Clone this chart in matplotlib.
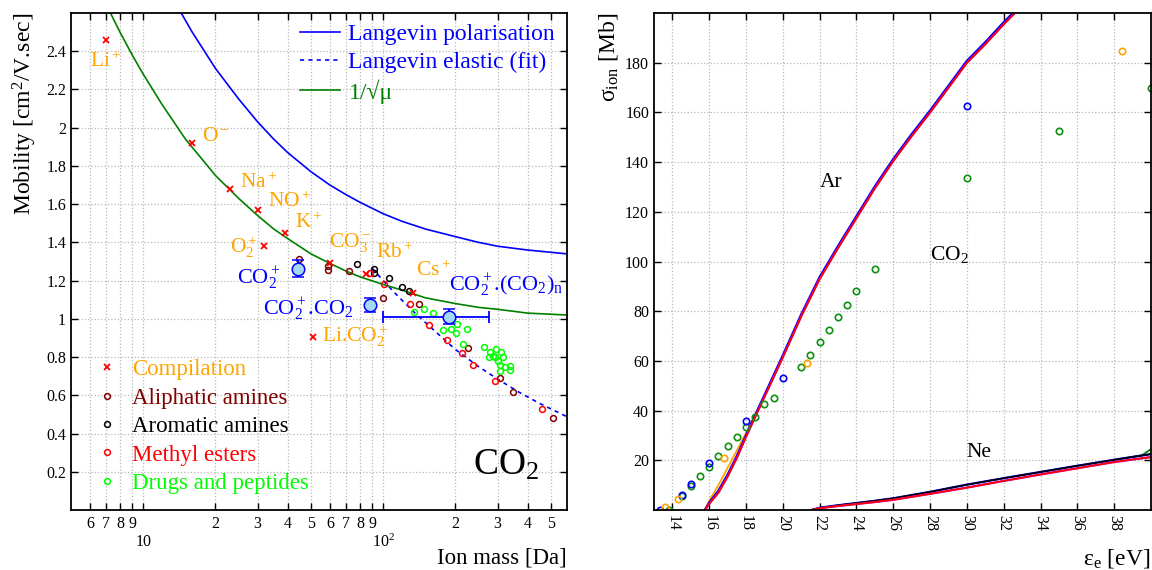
import matplotlib
matplotlib.use('Agg')
import matplotlib.pyplot as plt
from matplotlib.lines import Line2D
from matplotlib.ticker import FixedLocator, FixedFormatter

plt.rcParams['font.family'] = ['Liberation Serif', 'DejaVu Serif']
plt.rcParams['mathtext.fontset'] = 'custom'
plt.rcParams['mathtext.rm'] = 'Liberation Serif'
plt.rcParams['mathtext.it'] = 'Liberation Serif:italic'
plt.rcParams['mathtext.default'] = 'rm'

ORANGE = '#ffa500'
MAROON = '#800000'
LIME = '#00ff00'
DKGREEN = '#008000'

# ---------------- left panel data: ion mobility in CO2 ----------------
# theory curves
mass_pol = [14.4, 16, 18, 20, 25, 30, 35, 40, 50, 60, 70, 80, 100, 120, 150, 200, 250, 300, 400, 584]
K_pol = [2.60, 2.50, 2.40, 2.31, 2.15, 2.03, 1.94, 1.87, 1.77, 1.70, 1.65, 1.61, 1.55, 1.51, 1.47,
         1.43, 1.40, 1.38, 1.36, 1.34]
mass_el = [90, 100, 115, 135, 160, 200, 250, 300, 370, 450, 584]
K_el = [1.265, 1.20, 1.12, 1.033, 0.949, 0.84, 0.75, 0.685, 0.615, 0.557, 0.488]
mass_sq = [7.3, 8, 9, 10, 12, 15, 18, 20, 25, 30, 35, 40, 50, 60, 70, 80, 100, 120, 150, 200, 250,
           300, 400, 584]
K_sq = [2.60, 2.50, 2.38, 2.28, 2.12, 1.94, 1.82, 1.75, 1.63, 1.54, 1.47, 1.42, 1.34, 1.29, 1.25,
        1.22, 1.18, 1.15, 1.11, 1.08, 1.06, 1.05, 1.03, 1.02]

# compilation (crosses)
comp_mass = [7, 16, 23, 30, 32, 39, 51, 60, 85, 133]
comp_K = [2.46, 1.92, 1.68, 1.57, 1.38, 1.45, 0.907, 1.29, 1.237, 1.134]
comp_names = ['Li$^+$', 'O$^-$', 'Na$^+$', 'NO$^+$', 'O$_2^+$', 'K$^+$', 'Li.CO$_2^+$',
              'CO$_3^-$', 'Rb$^+$', 'Cs$^+$']
comp_lab_m = [6.0, 17.6, 25.4, 33.2, 22.9, 43, 55.6, 59.2, 93.3, 137]
comp_lab_K = [2.345, 1.953, 1.712, 1.613, 1.377, 1.503, 0.907, 1.398, 1.346, 1.25]

ali_mass = [44.7, 58.9, 58.9, 72.1, 100.3, 141, 225, 307, 347, 512]
ali_K = [1.312, 1.274, 1.253, 1.248, 1.108, 1.08, 0.847, 0.688, 0.617, 0.479]

aro_mass = [78, 92, 92, 106, 120, 128]
aro_K = [1.288, 1.26, 1.239, 1.215, 1.169, 1.148]

est_mass = [88, 101, 129, 155, 184, 213, 238, 293, 458]
est_K = [1.239, 1.182, 1.077, 0.970, 0.89, 0.82, 0.759, 0.677, 0.527]

drug_mass = [135, 148, 162, 178, 191, 203, 201, 223, 215, 264, 279, 296, 309, 275, 288, 300, 316,
             307, 322, 338, 338, 307, 293]
drug_K = [1.035, 1.051, 1.03, 0.942, 0.946, 0.972, 0.925, 0.946, 0.868, 0.855, 0.829, 0.841, 0.824,
          0.799, 0.806, 0.78, 0.799, 0.759, 0.75, 0.754, 0.733, 0.729, 0.803]

# CO2+ cluster ions with error bars
clu_mass = [44, 88, 189]
clu_K = [1.262, 1.073, 1.012]
clu_Kerr = [0.045, 0.035, 0.04]
clu_names = ['CO$_2^+$', 'CO$_2^+$.CO$_2$', 'CO$_2^+$.(CO$_2$)$_n$']
clu_lab_m = [24.6, 31.7, 189]
clu_lab_K = [1.213, 1.056, 1.178]
clun_mass_lo, clun_mass_hi = 100, 275

# ---------------- right panel data: ionisation cross sections ----------------
ar_e = [15.76, 16.0, 16.5, 17.0, 17.5, 18.0, 19.0, 20.0, 21.0, 22.0, 23.0, 24.0, 25.0, 26.0,
        27.0, 28.0, 29.0, 30.0, 31.0, 32.0, 33.0]
ar_red = [0, 2.5, 7, 13.5, 21, 29.5, 45.5, 61.5, 78, 93, 105.5, 117.5, 129.5, 140.5, 150.5, 160,
          170, 180, 187.5, 195.5, 203]
ar_blue = [0, 3.0, 7.8, 14.3, 21.8, 30.2, 46.3, 62.3, 78.8, 93.8, 106.3, 118.3, 130.3, 141.3, 151.3,
           160.8, 170.8, 180.8, 188.3, 196.3, 203.8]
ar_orange = [0, 3.8, 10, 17, 24, 31, 46, 61.8, 78, 93, 105.5, 117.5, 129.5, 140.5, 150.5, 160,
             170, 180, 187.5, 195.5, 203]

ne_e = [21.56, 22, 23, 24, 25, 26, 28, 30, 32, 34, 36, 38, 40]
ne_dark = [0, 0.9, 1.9, 2.8, 3.7, 4.7, 7.3, 10.2, 12.8, 15.3, 17.8, 20.2, 22.5]
ne_red = [0, 0.7, 1.6, 2.4, 3.2, 4.1, 6.5, 9.0, 11.7, 14.3, 16.8, 19.3, 21.3]
ne_green_e = [38, 39.5, 40]
ne_green = [20.2, 22.0, 24.5]

g_e = [13.8, 14.5, 15.0, 15.5, 16.0, 16.5, 17.0, 17.5, 18.0, 18.5, 19.0, 19.5, 21.0, 21.5, 22.0,
       22.5, 23.0, 23.5, 24.0, 25.0, 30.0, 35.0, 40.0]
g_s = [0.2, 5.6, 9.6, 13.6, 17.4, 21.6, 25.7, 29.3, 33.3, 37.3, 42.8, 45.1, 57.6, 62.2, 67.6, 72.6,
       77.7, 82.6, 88.0, 97.0, 133.8, 152.7, 169.7]
b_e = [13.3, 14.5, 15.0, 16.0, 18.0, 20.0, 30.0]
b_s = [0.2, 5.9, 10.4, 18.8, 35.7, 53.2, 162.7]
o_e = [13.6, 14.3, 16.8, 21.3, 38.4]
o_s = [1.1, 4.6, 21.0, 59.2, 184.7]

fig = plt.figure(figsize=(11.52, 5.7), dpi=100)
W, H = 1152, 570
axL = fig.add_axes([71 / W, 60 / H, 496 / W, 497 / H])
axR = fig.add_axes([654 / W, 60 / H, 497 / W, 497 / H])

grid_kw = dict(color='#b8b8b8', linestyle=':', linewidth=0.9)

# ---------------- left panel ----------------
ax = axL
ax.set_xscale('log')
ax.set_xlim(5, 584)
ax.set_ylim(0, 2.6)

ax.plot(mass_pol, K_pol, color='blue', lw=1.2, label='Langevin polarisation')
ax.plot(mass_el, K_el, color='blue', lw=1.2, ls=(0, (2.5, 2.5)), label='Langevin elastic (fit)')
ax.plot(mass_sq, K_sq, color=DKGREEN, lw=1.2, label='1/\u221a\u03bc')

sm = dict(ls='none', ms=4.2, mew=1.1, mfc='none')
ax.plot(ali_mass, ali_K, marker='o', mec=MAROON, **sm)
ax.plot(aro_mass, aro_K, marker='o', mec='black', **sm)
ax.plot(est_mass, est_K, marker='o', mec='red', **sm)
ax.plot(drug_mass, drug_K, marker='o', mec=LIME, **sm)
ax.plot(comp_mass, comp_K, ls='none', marker='x', color='red', ms=4.5, mew=1.3)

ax.errorbar(clu_mass, clu_K, yerr=clu_Kerr, fmt='o', ms=9, mfc='#a3d8f4', mec='blue',
            mew=1.1, ecolor='blue', elinewidth=1.3, capsize=4.5, capthick=1.3, zorder=5)
ax.errorbar([clu_mass[2]], [clu_K[2]],
            xerr=[[clu_mass[2] - clun_mass_lo], [clun_mass_hi - clu_mass[2]]],
            fmt='none', ecolor='blue', elinewidth=1.3, capsize=4.5, capthick=1.3, zorder=4)

for n, xm, yk in zip(comp_names, comp_lab_m, comp_lab_K):
    ax.text(xm, yk, n, color=ORANGE, fontsize=15.5, ha='left', va='center')
for n, xm, yk in zip(clu_names, clu_lab_m, clu_lab_K):
    ax.text(xm, yk, n, color='blue', fontsize=16, ha='left', va='center')
ax.text(238, 0.236, 'CO$_2$', fontsize=27, ha='left', va='center')

leg1 = ax.legend(loc='upper right', frameon=False, fontsize=17, handlelength=1.7,
                 handletextpad=0.35, labelspacing=0.27, borderaxespad=0.0,
                 bbox_to_anchor=(0.995, 0.998), labelcolor=['blue', 'blue', DKGREEN])
ax.add_artist(leg1)

h2 = [Line2D([], [], ls='none', marker='x', color='red', ms=4.5, mew=1.3),
      Line2D([], [], marker='o', mec=MAROON, **sm),
      Line2D([], [], marker='o', mec='black', **sm),
      Line2D([], [], marker='o', mec='red', **sm),
      Line2D([], [], marker='o', mec=LIME, **sm)]
l2 = ['Compilation', 'Aliphatic amines', 'Aromatic amines', 'Methyl esters', 'Drugs and peptides']
ax.legend(h2, l2, loc='lower left', frameon=False, fontsize=16.5, handlelength=1.0,
          handletextpad=0.6, labelspacing=0.32, borderaxespad=0.0,
          bbox_to_anchor=(0.03, 0.014), labelcolor=[ORANGE, MAROON, 'black', 'red', LIME])

ax.xaxis.set_major_locator(FixedLocator([10, 100]))
ax.xaxis.set_major_formatter(FixedFormatter(['10', '$10^2$']))
minor = [6, 7, 8, 9, 20, 30, 40, 50, 60, 70, 80, 90, 200, 300, 400, 500]
ax.xaxis.set_minor_locator(FixedLocator(minor))
ax.xaxis.set_minor_formatter(FixedFormatter([str(v)[0] for v in minor]))
ax.set_yticks([0.2 * i for i in range(1, 13)])
ax.set_yticklabels(['%g' % round(0.2 * i, 1) for i in range(1, 13)])
ax.tick_params(which='both', direction='in', top=True, right=True, labelsize=11.5,
               length=5, width=1.0)
ax.tick_params(axis='x', which='major', pad=17)
ax.tick_params(axis='x', which='minor', pad=4)
ax.grid(True, which='both', axis='x', **grid_kw)
ax.grid(True, which='major', axis='y', **grid_kw)
for s in ax.spines.values():
    s.set_linewidth(1.3)

fig.text(25 / W, 1 - 13 / H, 'Mobility [cm$^2$/V.sec]', rotation=90, ha='center', va='top',
         fontsize=17)
fig.text(567 / W, 1 - 558 / H, 'Ion mass [Da]', ha='right', va='center', fontsize=16.5)

# ---------------- right panel ----------------
ax = axR
ax.set_xlim(13, 40)
ax.set_ylim(0, 200)

ax.plot(ar_e, ar_orange, color=ORANGE, lw=1.3)
ax.plot(ar_e, ar_blue, color='blue', lw=1.6)
ax.plot(ar_e, ar_red, color='#c000c0', lw=1.6)
ax.plot(ar_e, ar_red, color='red', lw=1.2)
ax.plot(ne_green_e, ne_green, color=DKGREEN, lw=1.3)
ax.plot(ne_e, ne_dark, color='blue', lw=1.6)
ax.plot(ne_e, ne_dark, color='black', lw=1.2)
ax.plot(ne_e, ne_red, color='#c000c0', lw=1.6)
ax.plot(ne_e, ne_red, color='red', lw=1.2)

rm = dict(ls='none', marker='o', ms=4.6, mew=1.2, mfc='none')
ax.plot(g_e, g_s, mec='#109010', **rm)
ax.plot(b_e, b_s, mec='blue', **rm)
ax.plot(o_e, o_s, mec=ORANGE, **rm)

ax.text(22.0, 131.7, 'Ar', fontsize=15.5, ha='left', va='center')
ax.text(28.0, 102.7, 'CO$_2$', fontsize=15.5, ha='left', va='center')
ax.text(30.0, 23, 'Ne', fontsize=15.5, ha='left', va='center')

ax.set_xticks(list(range(14, 40, 2)))
ax.set_yticks(list(range(20, 200, 20)))
ax.tick_params(which='both', direction='in', top=True, right=True, labelsize=11.5,
               length=5, width=1.0)
for lab in ax.get_xticklabels():
    lab.set_rotation(-90)
ax.grid(True, **grid_kw)
for s in ax.spines.values():
    s.set_linewidth(1.3)

fig.text(608 / W, 1 - 13 / H, '\u03c3$_\\mathrm{ion}$ [Mb]', rotation=90, ha='center', va='top',
         fontsize=17)
fig.text(1150 / W, 1 - 558 / H, '\u03b5$_\\mathrm{e}$ [eV]', ha='right', va='center', fontsize=17)

fig.savefig('out.png', dpi=100)
